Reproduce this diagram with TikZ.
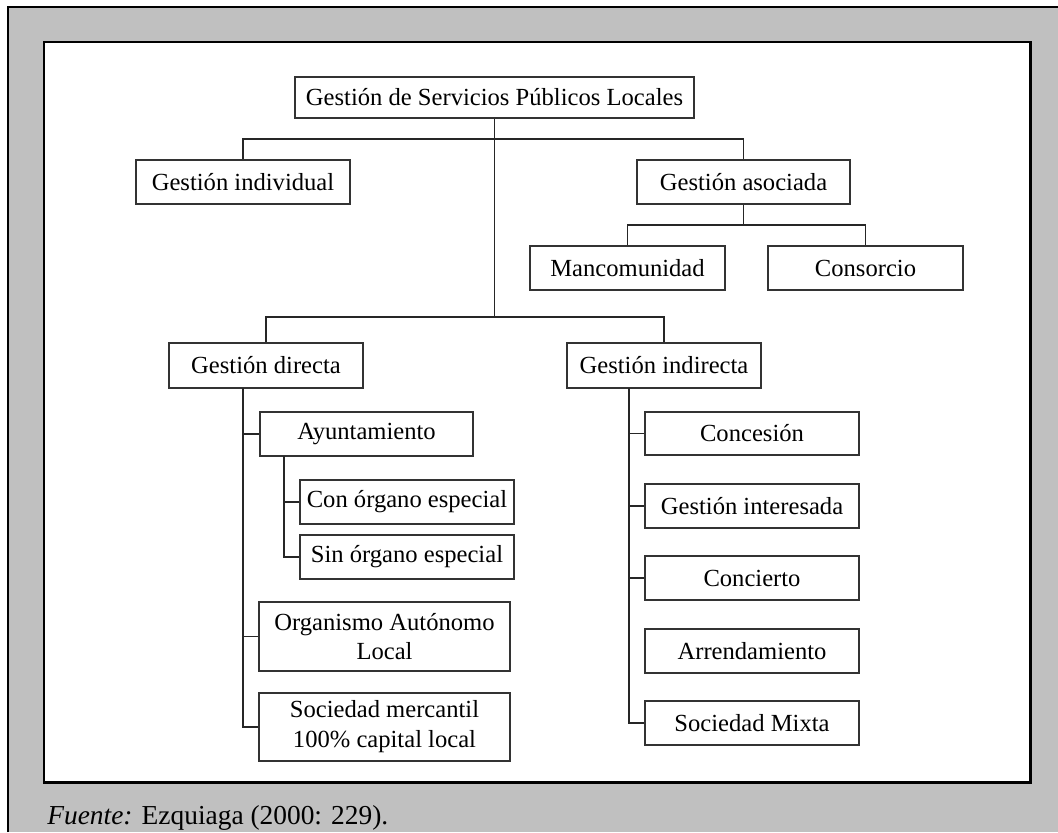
\documentclass[tikz,border=0pt]{standalone}
\usepackage{fontspec}
\setmainfont{Liberation Serif}
\definecolor{framegray}{RGB}{192,192,192}
\begin{document}
\begin{tikzpicture}[x=0.02cm,y=-0.02cm,
  box/.style={draw=black!80, line width=0.6pt, fill=white, inner sep=0pt,
    align=center, font=\fontsize{14}{17}\selectfont},
  sz/.style 2 args={minimum width=#1*0.02cm, minimum height=#2*0.02cm},
  link/.style={draw=black!85, line width=0.6pt}]
\useasboundingbox (0,0) rectangle (1058,832);
% frame and panel
\fill[framegray] (8,7) rectangle (1058,832);
\draw[line width=1.2pt] (8,832) -- (8,7) -- (1058,7);
\draw[fill=white, line width=1.7pt] (44,42) rectangle (1030,782);

% boxes
\node[box, sz={399}{41}] (top)  at (494.5,97.5) {Gestión de Servicios Públicos Locales};
\node[box, sz={214}{44}] (ind)  at (243,182)    {Gestión individual};
\node[box, sz={213}{44}] (aso)  at (743.5,182)  {Gestión asociada};
\node[box, sz={195}{44}] (man)  at (627.5,268)  {Mancomunidad};
\node[box, sz={195}{44}] (cons) at (865.5,268)  {Consorcio};
\node[box, sz={194}{45}] (dir)  at (266,365.5)  {Gestión directa};
\node[box, sz={194}{45}] (indi) at (664,365.5)  {Gestión indirecta};
\node[box, sz={213}{44}] (ayu)  at (366.5,434)  {Ayuntamiento};
\node[box, sz={214}{44}] (cono) at (407,502)    {Con órgano especial};
\node[box, sz={214}{44}] (sino) at (407,557)    {Sin órgano especial};
\node[box, sz={251}{69}] (org)  at (384.5,636.5){Organismo Autónomo\\Local};
\node[box, sz={251}{68}] (soc)  at (384.5,727)  {Sociedad mercantil\\100\% capital local};
\node[box, sz={214}{43}] (conc) at (752,433.5)  {Concesión};
\node[box, sz={214}{44}] (gint) at (752,506)    {Gestión interesada};
\node[box, sz={214}{44}] (conci)at (752,578)    {Concierto};
\node[box, sz={214}{44}] (arr)  at (752,651)    {Arrendamiento};
\node[box, sz={214}{44}] (mix)  at (752,723)    {Sociedad Mixta};

% junction points
\coordinate (b1) at (494.5,139);
\coordinate (b2) at (494.5,317);
\coordinate (b3) at (743.5,225);
\coordinate (dv) at (243,388);
\coordinate (av) at (284,456);
\coordinate (iv) at (629,388);

% connectors
\draw[link] (top.south) -- (b2);
\draw[link] (ind.north) |- (b1) -| (aso.north);
\draw[link] (dir.north) |- (b2) -| (indi.north);
\draw[link] (aso.south) -- (b3);
\draw[link] (man.north) |- (b3) -| (cons.north);

\draw[link] (dv) |- (soc.west);
\draw[link] (dv |- ayu.west) -- (ayu.west);
\draw[link] (dv |- org.west) -- (org.west);

\draw[link] (av) |- (sino.west);
\draw[link] (av |- cono.west) -- (cono.west);

\draw[link] (iv) |- (mix.west);
\draw[link] (iv |- conc.west) -- (conc.west);
\draw[link] (iv |- gint.west) -- (gint.west);
\draw[link] (iv |- conci.west) -- (conci.west);

% source line
\node[anchor=base west, inner sep=0pt, font=\fontsize{15.6}{18}\selectfont] (src) at (47,824)
  {\textit{Fuente:} Ezquiaga (2000: 229).};
\end{tikzpicture}
\end{document}
